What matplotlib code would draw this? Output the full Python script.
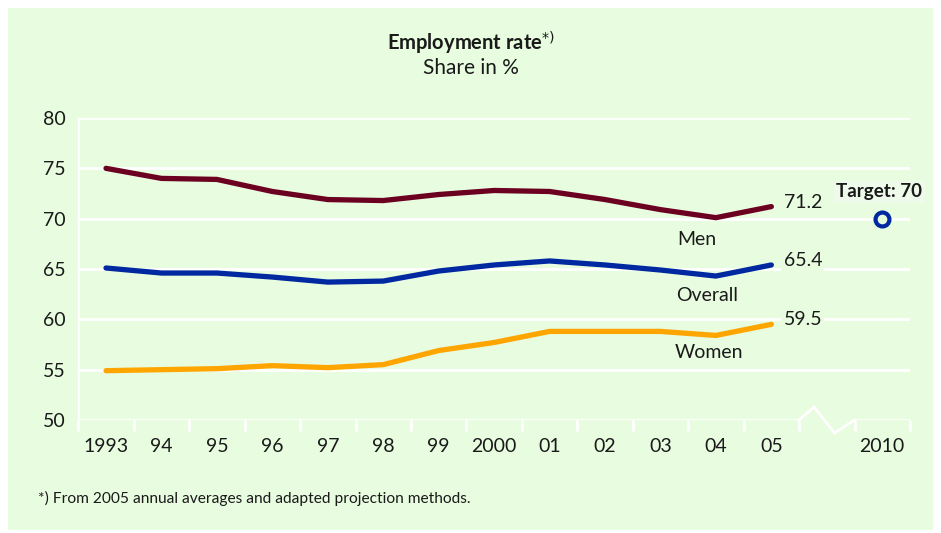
import matplotlib.pyplot as plt
from matplotlib.patches import Rectangle

plt.rcParams['font.family'] = ['Lato', 'DejaVu Sans']

# Beschäftigungsquote in %
years = ['1993', '94', '95', '96', '97', '98', '99', '2000', '01', '02', '03', '04', '05']
men = [75.0, 74.0, 73.9, 72.7, 71.9, 71.8, 72.4, 72.8, 72.7, 71.9, 70.9, 70.1, 71.2]
overall = [65.1, 64.6, 64.6, 64.2, 63.7, 63.8, 64.8, 65.4, 65.8, 65.4, 64.9, 64.3, 65.4]
women = [54.9, 55.0, 55.1, 55.4, 55.2, 55.5, 56.9, 57.7, 58.8, 58.8, 58.8, 58.4, 59.5]
target_year = '2010'
target_value = 70

BG = '#e8fce0'
TXT = '#1a1a1a'
C_MEN = '#6b0020'
C_ALL = '#0028a0'
C_WOMEN = '#ffa500'
FS = 14

fig = plt.figure(figsize=(9.41, 5.33), dpi=100)
fig.patch.set_facecolor('white')
fig.patches.append(Rectangle((8 / 941, 3 / 533), 925 / 941, 522 / 533,
                             transform=fig.transFigure, facecolor=BG,
                             edgecolor='none', zorder=-10))

ax = fig.add_axes([0.0832, 0.212, 0.8838, 0.5666], zorder=1)
ax.set_facecolor('none')
for s in ax.spines.values():
    s.set_visible(False)

x = list(range(len(years)))
x_target = len(years) + 1  # eine Lücke für den Achsenbruch

# Gitterlinien
for yv in range(55, 81, 5):
    ax.plot([-0.5, 14.5], [yv, yv], color='white', lw=2, zorder=1, solid_capstyle='butt')
ax.plot([-0.5, 12.5], [50, 50], color='white', lw=2, zorder=1, solid_capstyle='butt')
ax.plot([13.5, 14.5], [50, 50], color='white', lw=2, zorder=1, solid_capstyle='butt')
# Achsenbruch
ax.plot([12.5, 12.77, 13.14, 13.5], [50, 51.3, 48.7, 50], color='white', lw=2,
        zorder=1, clip_on=False, solid_joinstyle='miter')
ax.plot([-0.5, -0.5], [50, 80], color='white', lw=2, zorder=1)

for vals, col in [(men, C_MEN), (overall, C_ALL), (women, C_WOMEN)]:
    ax.plot(x, vals, color=col, lw=3.8, solid_capstyle='round', zorder=3)
    ax.text(12.22, vals[-1] + 0.45, f'{vals[-1]:.1f}', ha='left', va='center',
            fontsize=FS, color=TXT, zorder=4,
            bbox=dict(facecolor=BG, edgecolor='none', pad=1.5))

ax.text(10.65, 67.9, 'Men', ha='center', va='center', fontsize=FS, color=TXT)
ax.text(10.85, 62.4, 'Overall', ha='center', va='center', fontsize=FS, color=TXT)
ax.text(10.88, 56.7, 'Women', ha='center', va='center', fontsize=FS, color=TXT)

ax.plot([x_target], [target_value], marker='o', ms=10, mfc=BG, mec=C_ALL,
        mew=3, zorder=4)
ax.text(x_target - 0.05, target_value + 2.65, f'Target: {target_value}',
        ha='center', va='center', fontsize=13.5, fontweight='bold', color=TXT,
        bbox=dict(facecolor='#eefaea', edgecolor='none', pad=2))

ax.set_xlim(-0.5, 14.5)
ax.set_ylim(50, 80)
ax.set_yticks(range(50, 81, 5))
ax.tick_params(axis='y', length=0, pad=9, labelsize=FS, labelcolor=TXT)
ax.set_xticks(x + [x_target])
ax.set_xticklabels(years + [target_year])
ax.set_xticks([i - 0.5 for i in range(16)], minor=True)
ax.tick_params(axis='x', which='major', length=0, pad=13, labelsize=FS, labelcolor=TXT)
ax.tick_params(axis='x', which='minor', length=8, width=2, color='white')

fig.text(0.5, 1 - 43 / 533, 'Employment rate$^{*)}$', ha='center', va='center',
         fontsize=14.5, fontweight='bold', color=TXT)
fig.text(0.5, 1 - 68 / 533, 'Share in %', ha='center', va='center',
         fontsize=15, color=TXT)
fig.text(38 / 941, 1 - 498 / 533,
         '*) From 2005 annual averages and adapted projection methods.',
         ha='left', va='center', fontsize=11.2, color=TXT)

fig.savefig('out.png', dpi=100, facecolor='white')
